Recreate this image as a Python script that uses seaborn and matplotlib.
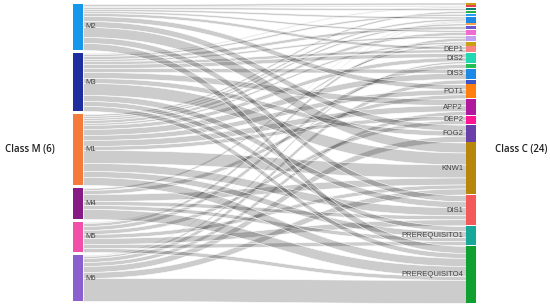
import numpy as np
import matplotlib
matplotlib.use("Agg")
import matplotlib.pyplot as plt
import seaborn as sns

# Class M (left) nodes, in display order
m_nodes = ['M2', 'M3', 'M1', 'M4', 'M5', 'M6']
m_colors = ['#1597ec', '#1f2e9e', '#f57b3b', '#861a86', '#f24fa8', '#8a5fd0']

# Class C (right) nodes, in display order (small ones carry no label)
c_nodes = ['C01', 'C02', 'C03', 'C04', 'C05', 'C06', 'C07', 'C08', 'C09', 'C10',
           'C11', 'DEP1', 'DIS2', 'C14', 'DIS3', 'C16', 'POT1', 'APP2', 'DEP2',
           'FOG2', 'KNW1', 'DIS1', 'PREREQUISITO1', 'PREREQUISITO4']
c_labels = ['', '', '', '', '', '', '', '', '', '',
            '', 'DEP1', 'DIS2', '', 'DIS3', '', 'POT1', 'APP2', 'DEP2',
            'FOG2', 'KNW1', 'DIS1', 'PREREQUISITO1', 'PREREQUISITO4']
c_colors = ['#c9a012', '#e5404b', '#0e7d6e', '#21b04f', '#2a9df4', '#1e88e5',
            '#f5a050', '#6a5acd', '#f06ad0', '#c4a0f0', '#c9a012', '#f88583',
            '#22d8b2', '#22c052', '#1e88e5', '#3a55c8', '#ff7f0e', '#b0189e',
            '#ff1493', '#6a40a8', '#b8860b', '#f55a5a', '#17a89a', '#10a030']

# links: source (class M), target (class C), value
link_source = ['M2', 'M2', 'M3', 'M2', 'M1', 'M3', 'M2', 'M1', 'M5', 'M6',
               'M1', 'M3', 'M2', 'M1', 'M3', 'M5', 'M1', 'M4', 'M2', 'M3',
               'M1', 'M3', 'M6', 'M5', 'M3', 'M1', 'M6', 'M2', 'M1', 'M4',
               'M3', 'M1', 'M6', 'M1', 'M5', 'M2', 'M3', 'M6',
               'M2', 'M3', 'M1', 'M4', 'M5', 'M6',
               'M2', 'M3', 'M1', 'M4', 'M5',
               'M3', 'M1', 'M4', 'M5',
               'M2', 'M3', 'M1', 'M4', 'M5', 'M6']
link_target = ['C01', 'C02', 'C02', 'C03', 'C04', 'C05', 'C06', 'C06', 'C06', 'C06',
               'C07', 'C08', 'C09', 'C09', 'C10', 'C10', 'C11', 'C11', 'DEP1', 'DEP1',
               'DIS2', 'DIS2', 'DIS2', 'C14', 'DIS3', 'DIS3', 'C16', 'POT1', 'POT1', 'POT1',
               'APP2', 'APP2', 'APP2', 'DEP2', 'DEP2', 'FOG2', 'FOG2', 'FOG2',
               'KNW1', 'KNW1', 'KNW1', 'KNW1', 'KNW1', 'KNW1',
               'DIS1', 'DIS1', 'DIS1', 'DIS1', 'DIS1',
               'PREREQUISITO1', 'PREREQUISITO1', 'PREREQUISITO1', 'PREREQUISITO1',
               'PREREQUISITO4', 'PREREQUISITO4', 'PREREQUISITO4', 'PREREQUISITO4',
               'PREREQUISITO4', 'PREREQUISITO4']
link_value = [2, 1, 1, 2, 2, 2, 2, 2, 1, 1,
              2, 3, 2, 3, 2, 3, 2, 2, 3, 3,
              4, 4, 2, 4, 4, 6, 4, 5, 5, 4,
              6, 6, 4, 4, 4, 6, 5, 6,
              10, 12, 13, 7, 4, 6,
              6, 6, 8, 4, 6,
              5, 6, 4, 4,
              7, 5, 8, 10, 4, 23]

sns.set_theme(style="white")
plt.rcParams['font.family'] = ['Liberation Sans', 'DejaVu Sans']

fig = plt.figure(figsize=(5.5, 3.07), dpi=100)
ax = fig.add_axes([0, 0, 1, 1])
ax.set_xlim(0, 550)
ax.set_ylim(307, 0)
ax.axis('off')

scale = 1.0
node_w = 10
left_x, right_x = 73, 466


def stack(names, totals, top, pad):
    pos = {}
    y = top
    for n in names:
        pos[n] = y
        y += totals[n] * scale + pad
    return pos


m_tot = {n: 0 for n in m_nodes}
c_tot = {n: 0 for n in c_nodes}
for s, t, v in zip(link_source, link_target, link_value):
    m_tot[s] += v
    c_tot[t] += v

m_pos = stack(m_nodes, m_tot, 4, 3)
c_pos = stack(c_nodes, c_tot, 2.5, 0.8)

# link offsets: at source sorted by target order, at target by source order
links = list(zip(link_source, link_target, link_value))
src_off, tgt_off = {}, {}
m_cur = dict(m_pos)
for s, t, v in sorted(links, key=lambda l: (m_nodes.index(l[0]), c_nodes.index(l[1]))):
    src_off[(s, t)] = m_cur[s]
    m_cur[s] += v * scale
c_cur = dict(c_pos)
for s, t, v in sorted(links, key=lambda l: (c_nodes.index(l[1]), m_nodes.index(l[0]))):
    tgt_off[(s, t)] = c_cur[t]
    c_cur[t] += v * scale

tt = np.linspace(0, 1, 80)
x0, x1 = left_x + node_w, right_x
xm = (x0 + x1) / 2
xs = (1 - tt) ** 3 * x0 + 3 * (1 - tt) ** 2 * tt * xm + 3 * (1 - tt) * tt ** 2 * xm + tt ** 3 * x1
ease = 3 * tt ** 2 - 2 * tt ** 3
for s, t, v in links:
    ya, yb = src_off[(s, t)], tgt_off[(s, t)]
    top = ya + (yb - ya) * ease
    ax.fill_between(xs, top, top + v * scale, facecolor=(0, 0, 0, 0.2),
                    edgecolor='white', linewidth=0.4, zorder=1)

# nodes
for n, col in zip(m_nodes, m_colors):
    ax.bar(left_x + node_w / 2, m_tot[n] * scale, bottom=m_pos[n], width=node_w,
           color=col, linewidth=0, zorder=2)
    ax.text(left_x + node_w + 2, m_pos[n] + m_tot[n] * scale / 2, n,
            ha='left', va='center', fontsize=5.5, color='#444444', zorder=3)
for n, lab, col in zip(c_nodes, c_labels, c_colors):
    ax.bar(right_x + node_w / 2, c_tot[n] * scale, bottom=c_pos[n], width=node_w,
           color=col, linewidth=0, zorder=2)
    if lab:
        ax.text(right_x - 3, c_pos[n] + c_tot[n] * scale / 2, lab,
                ha='right', va='center', fontsize=5.5, color='#444444', zorder=3)

ax.text(5, 150, 'Class M (6)', ha='left', va='center', fontsize=7,
        color='#222222', family=['Open Sans', 'DejaVu Sans'], fontweight='semibold')
ax.text(547, 150, 'Class C (24)', ha='right', va='center', fontsize=7,
        color='#222222', family=['Open Sans', 'DejaVu Sans'], fontweight='semibold')

fig.savefig('out.png', dpi=100)
